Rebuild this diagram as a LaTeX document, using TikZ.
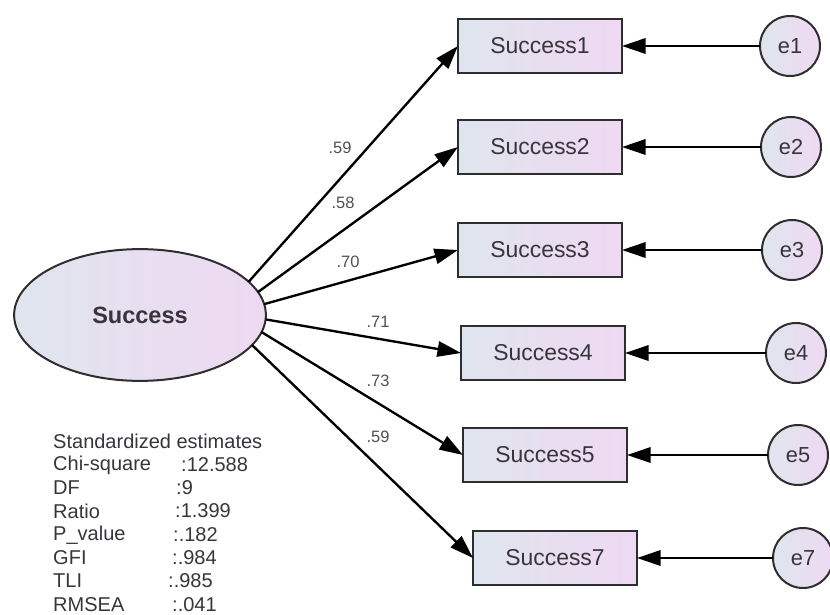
\documentclass[tikz,border=0pt]{standalone}
\usepackage{fontspec}
\setmainfont{Liberation Sans}
\usetikzlibrary{arrows.meta,shapes.geometric}
\definecolor{fillL}{HTML}{DFE5EE}
\definecolor{fillR}{HTML}{EFD9F2}
\definecolor{edgecol}{HTML}{2E2E2E}
\definecolor{txtcol}{HTML}{38343C}
\definecolor{lblcol}{HTML}{505050}
\begin{document}
\begin{tikzpicture}[x=0.85pt,y=-0.85pt,
  latent/.style={ellipse, draw=edgecol, line width=1.7pt, left color=fillL, right color=fillR,
    minimum width=214pt, minimum height=112pt, inner sep=0pt, outer sep=0pt,
    text=txtcol, font=\fontsize{20}{22}\selectfont\bfseries},
  indicator/.style={rectangle, draw=edgecol, line width=2.3pt, left color=fillL, right color=fillR,
    minimum width=139.4pt, minimum height=45.9pt, inner sep=0pt, outer sep=0pt,
    text=txtcol, font=\fontsize{19.5}{21}\selectfont},
  errterm/.style={circle, draw=edgecol, line width=1.7pt, left color=fillL, right color=fillR,
    minimum size=51pt, inner sep=0pt, outer sep=0pt,
    text=txtcol, font=\fontsize{18.5}{20}\selectfont},
  path/.style={line width=2pt, -{Triangle[length=20pt,width=13pt]}},
  loading/.style={text=lblcol, font=\fontsize{14}{16}\selectfont, inner sep=0pt},
  fit/.style={text=txtcol, font=\fontsize{17}{19}\selectfont, anchor=west, inner sep=0pt},
]
\useasboundingbox (0,0) rectangle (830,615);

% latent factor
\node[latent] (S) at (140,315) {Success};

% observed indicators
\node[indicator] (s1) at (540,46)  {Success1};
\node[indicator] (s2) at (540,147) {Success2};
\node[indicator] (s3) at (540,250) {Success3};
\node[indicator] (s4) at (543,353) {Success4};
\node[indicator] (s5) at (545,455) {Success5};
\node[indicator] (s7) at (555,558) {Success7};

% error terms
\node[errterm] (e1) at (790,46)  {e1};
\node[errterm] (e2) at (791,147) {e2};
\node[errterm] (e3) at (792,250) {e3};
\node[errterm] (e4) at (796,353) {e4};
\node[errterm] (e5) at (798,455) {e5};
\node[errterm] (e7) at (803,558) {e7};

% factor loadings
\draw[path] (S.17)   -- (s1.west);
\draw[path] (S.11)   -- (s2.west);
\draw[path] (S.5.6)  -- (s3.west);
\draw[path] (S.-2.3) -- (s4.west);
\draw[path] (S.-8.5) -- (s5.west);
\draw[path] (S.-15.8) -- (s7.west);

% error paths
\draw[path] (e1.west) -- (s1.east);
\draw[path] (e2.west) -- (s2.east);
\draw[path] (e3.west) -- (s3.east);
\draw[path] (e4.west) -- (s4.east);
\draw[path] (e5.west) -- (s5.east);
\draw[path] (e7.west) -- (s7.east);

% standardized loadings
\node[loading] (l1) at (340,148) {.59};
\node[loading] (l2) at (343,203) {.58};
\node[loading] (l3) at (348,262) {.70};
\node[loading] (l4) at (378,322) {.71};
\node[loading] (l5) at (378,381) {.73};
\node[loading] (l7) at (378,437) {.59};

% fit statistics
\node[fit] (t0) at (53,441) {Standardized estimates};
\node[fit] (t1) at (53,465) {Chi-square};  \node[fit] (v1) at (181,465) {:12.588};
\node[fit] (t2) at (53,488) {DF};          \node[fit] (v2) at (176,488) {:9};
\node[fit] (t3) at (53,511) {Ratio};       \node[fit] (v3) at (175,511) {:1.399};
\node[fit] (t4) at (53,535) {P\_value};    \node[fit] (v4) at (173,535) {:.182};
\node[fit] (t5) at (53,558) {GFI};         \node[fit] (v5) at (172,558) {:.984};
\node[fit] (t6) at (53,581) {TLI};         \node[fit] (v6) at (168,581) {:.985};
\node[fit] (t7) at (53,605) {RMSEA};       \node[fit] (v7) at (172,605) {:.041};
\end{tikzpicture}
\end{document}
